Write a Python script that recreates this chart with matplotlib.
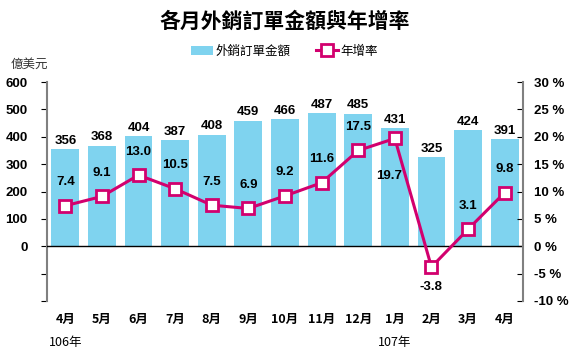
import matplotlib.pyplot as plt
from matplotlib import font_manager

months = ["4月", "5月", "6月", "7月", "8月", "9月", "10月", "11月", "12月", "1月", "2月", "3月", "4月"]
years = {0: "106年", 9: "107年"}
orders = [356, 368, 404, 387, 408, 459, 466, 487, 485, 431, 325, 424, 391]
growth = [7.4, 9.1, 13.0, 10.5, 7.5, 6.9, 9.2, 11.6, 17.5, 19.7, -3.8, 3.1, 9.8]
# rate labels drawn below the marker instead of above: (x shift, offset in % units)
below = {9: (-0.15, 5.8), 10: (0, 2.6)}

cjk = "Noto Sans CJK TC"
names = {f.name for f in font_manager.fontManager.ttflist}
num_font = "Liberation Sans Narrow" if "Liberation Sans Narrow" in names else "Liberation Sans"
plt.rcParams["font.family"] = [num_font, cjk]

bar_color = "#7fd3ef"
line_color = "#d2006e"
spine_color = "#808080"

fig = plt.figure(figsize=(5.69, 3.54), dpi=100)
ax = fig.add_axes([0.0826, 0.150, 0.8365, 0.618])
ax2 = ax.twinx()

x = list(range(len(months)))
bars = ax.bar(x, orders, width=0.76, color=bar_color, zorder=2, label="外銷訂單金額")
ax.axhline(0, color="black", lw=1, zorder=3)
ax.set_xlim(-0.5, len(months) - 0.5)
ax.set_ylim(-200, 600)
ax.set_yticks(range(-200, 601, 100))
ax.set_yticklabels(["", ""] + [str(v) for v in range(0, 601, 100)],
                   fontsize=9.5, fontweight="bold")
ax.set_xticks([])
for s in ["top", "right", "bottom"]:
    ax.spines[s].set_visible(False)
ax.spines["left"].set_color(spine_color)
ax.spines["left"].set_linewidth(1.5)
ax.tick_params(axis="y", direction="out", length=4, color="black", pad=10)

for xi, v in zip(x, orders):
    ax.text(xi, v + 8, str(v), ha="center", va="bottom", fontsize=9.5, fontweight="bold")

ln, = ax2.plot(x, growth, color=line_color, lw=2.2, marker="s", markersize=8,
               markerfacecolor="white", markeredgecolor=line_color, markeredgewidth=2,
               zorder=5, label="年增率")
ax2.set_ylim(-10, 30)
ax2.set_yticks(range(-10, 31, 5))
ax2.set_yticklabels([f"{v} %" for v in range(-10, 31, 5)], fontsize=9.5, fontweight="bold")
for s in ["top", "left", "bottom"]:
    ax2.spines[s].set_visible(False)
ax2.spines["right"].set_color(spine_color)
ax2.spines["right"].set_linewidth(1.5)
ax2.tick_params(axis="y", direction="in", length=4, color="black", pad=8)

for i, (xi, g) in enumerate(zip(x, growth)):
    if i in below:
        dx, dy = below[i]
        ax2.text(xi + dx, g - dy, f"{g:.1f}", ha="center", va="top", fontsize=9.5, fontweight="bold")
    else:
        ax2.text(xi, g + 3.2, f"{g:.1f}", ha="center", va="bottom", fontsize=9.5, fontweight="bold")

for xi, m in zip(x, months):
    ax.text(xi, -0.055, m, transform=ax.get_xaxis_transform(), ha="center", va="top",
            fontsize=9, fontweight="bold", family=[cjk])
for i, y in years.items():
    ax.text(i, -0.16, y, transform=ax.get_xaxis_transform(), ha="center", va="top",
            fontsize=9, family=[cjk])

fig.text(0.5, 0.94, "各月外銷訂單金額與年增率", ha="center", va="center",
         fontsize=15, fontweight="bold", family=[cjk])
fig.text(0.018, 0.82, "億美元", ha="left", va="center", fontsize=9, family=[cjk], color="#333333")
fig.legend([bars, ln], ["外銷訂單金額", "年增率"], loc="center", bbox_to_anchor=(0.5, 0.855),
           ncol=2, frameon=False, prop={"family": cjk, "size": 9}, handlelength=1.8,
           columnspacing=2.0, handletextpad=0.2)

fig.savefig("out.png", dpi=100)
